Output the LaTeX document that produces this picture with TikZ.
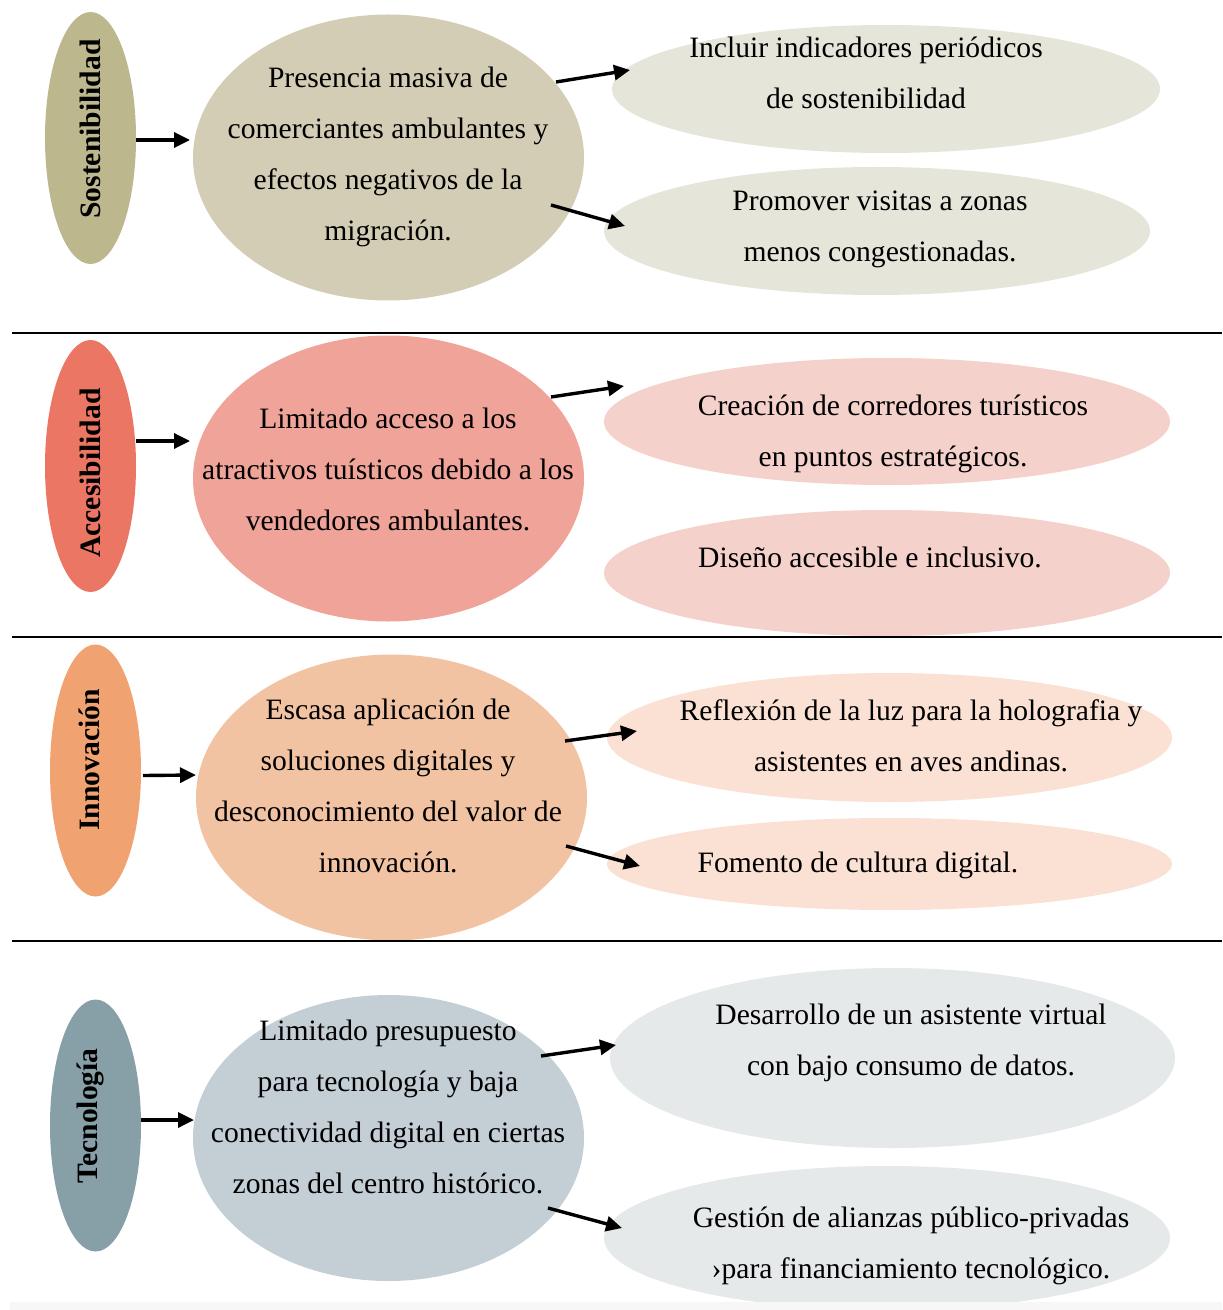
\documentclass[tikz,border=0pt]{standalone}
\usepackage{fontspec}
\setmainfont{Liberation Serif}
\usetikzlibrary{shapes.geometric}
\usetikzlibrary{arrows.meta,calc}
\definecolor{sostC}{HTML}{BDB78E}
\definecolor{presC}{HTML}{D4CDB6}
\definecolor{sostL}{HTML}{E6E5DA}
\definecolor{accC}{HTML}{EB7663}
\definecolor{limC}{HTML}{F0A399}
\definecolor{accL}{HTML}{F5D1CB}
\definecolor{innoC}{HTML}{F0A271}
\definecolor{escC}{HTML}{F2C3A3}
\definecolor{innoL}{HTML}{FBE1D4}
\definecolor{tecnC}{HTML}{87A0A8}
\definecolor{ptoC}{HTML}{C4CED5}
\definecolor{tecnL}{HTML}{E5E9EA}
\newcommand{\bodyfont}{\fontsize{14.8}{25.5}\selectfont}
\tikzstyle{oval}=[ellipse,inner sep=0pt,outer sep=0pt]
\tikzstyle{tag}=[rotate=90,inner sep=0pt,font=\bodyfont\bfseries]
\tikzstyle{txt}=[align=center,inner sep=0pt,font=\bodyfont]
\tikzstyle{edge}=[draw,line width=1.7pt,-{Triangle[length=8pt,width=7.5pt]}]
\tikzstyle{sep}=[draw,line width=1.25pt]

\begin{document}
\begin{tikzpicture}[x=0.5pt,y=-0.5pt]

  \useasboundingbox (0,0) rectangle (1222,1310);

  % categories on the left
  \foreach \x/\y/\c/\name in {90.5/138/sostC/sost, 90.5/466/accC/acc, 95.5/770.5/innoC/inno, 95.5/1125.5/tecnC/tecn}
         \node[oval,fill=\c,minimum width=45.5pt,minimum height=126pt] (\name) at (\x,\y) {};

  % problems in the middle
  \foreach \x/\y/\c/\name in {388.5/157.5/presC/pres, 388.5/478.5/limC/lim, 391.5/797.5/escC/esc, 388.5/1138/ptoC/pto}
         \node[oval,fill=\c,minimum width=195.5pt,minimum height=143pt] (\name) at (\x,\y) {};

  % proposals on the right
  \foreach \x/\y/\w/\h/\c/\name in {886/89/274/64/sostL/r11, 877/231/273/64/sostL/r12,
                                    887/421.5/283/63.5/accL/r21, 887/573/283/63/accL/r22,
                                    889.5/737.5/282.5/64.5/innoL/r31, 889.5/864/282.5/46/innoL/r32,
                                    892.5/1058/282.5/90/tecnL/r41, 887/1238/283/72/tecnL/r42}
         \node[oval,fill=\c,minimum width=\w pt,minimum height=\h pt] (\name) at (\x,\y) {};

  % texts
  \foreach \x/\y/\name/\label in {90/129/sostT/Sostenibilidad, 90/473/accT/Accesibilidad, 89/760/innoT/Innovación, 90/1116/tecnT/Tecnología}
         \node[tag] (\name) at (\x,\y) {\label};

  \foreach \x/\y/\name/\label in {388/156.5/presT/{Presencia masiva de\\comerciantes ambulantes y\\efectos negativos de la\\migración.},
                                  388/469/limT/{Limitado acceso a los\\atractivos tuísticos debido a los\\vendedores ambulantes.},
                                  388/786/escT/{Escasa aplicación de\\soluciones digitales y\\desconocimiento del valor de\\innovación.},
                                  388/1106.5/ptoT/{Limitado presupuesto\\para tecnología y baja\\conectividad digital en ciertas\\zonas del centro histórico.}}
         \node[txt] (\name) at (\x,\y) {\label};

  \foreach \x/\y/\name/\label in {866/73/r11T/{Incluir indicadores periódicos\\de sostenibilidad},
                                  880/229/r12T/{Promover visitas a zonas\\menos congestionadas.},
                                  893/434/r21T/{Creación de corredores turísticos\\en puntos estratégicos.},
                                  870/557/r22T/{Diseño accesible e inclusivo.},
                                  911/736/r31T/{Reflexión de la luz para la holografia y\\asistentes en aves andinas.},
                                  858/865/r32T/{Fomento de cultura digital.},
                                  911/1043/r41T/{Desarrollo de un asistente virtual\\con bajo consumo de datos.},
                                  911/1246/r42T/{Gestión de alianzas público-privadas\\›para financiamiento tecnológico.}}
         \node[txt] (\name) at (\x,\y) {\label};

  % arrows
  \foreach \source/\sx/\sy/\dest/\dx/\dy in {sost/45.5/2/pres/-198.5/-17.5, pres/167.5/-75.5/r11/-256/-19, pres/162.5/47.5/r12/-252/-5,
                                             acc/45.5/-25/lim/-198.5/-37.5, lim/162.5/-81.5/r21/-263/-35.5,
                                             inno/47.5/5/esc/-195.5/-22.5, esc/173.5/-56.5/r31/-252.5/-6.5, esc/174.5/48.5/r32/-249.5/2,
                                             tecn/45.5/-5.5/pto/-194.5/-18, pto/152.5/-82/r41/-276.5/-13, pto/159.5/70/r42/-265/-10}
         \path[edge] ($(\source)+(\sx,\sy)$) -- ($(\dest)+(\dx,\dy)$);

  % separators
  \foreach \y in {333, 637, 941}
         \path[sep] (12,\y) -- (1222,\y);

  \fill[black!3] (10,1302) rectangle (1222,1310);

\end{tikzpicture}
\end{document}
